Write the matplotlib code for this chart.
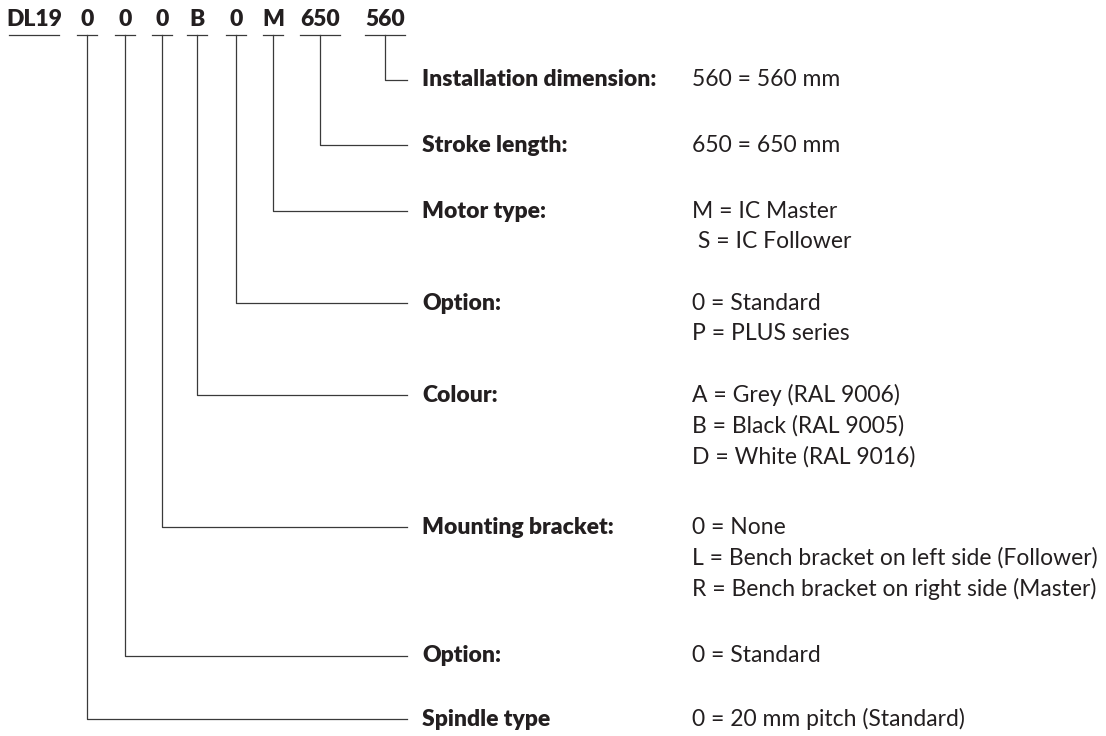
import matplotlib
matplotlib.use("Agg")
import matplotlib.pyplot as plt

# type code parts (header) and what each one means
codes = ["DL19", "0", "0", "0", "B", "0", "M", "650", "560"]
labels = ["Installation dimension:", "Stroke length:", "Motor type:", "Option:",
          "Colour:", "Mounting bracket:", "Option:", "Spindle type"]
values = [
    ["560 = 560 mm"],
    ["650 = 650 mm"],
    ["M = IC Master", " S = IC Follower"],
    ["0 = Standard", "P = PLUS series"],
    ["A = Grey (RAL 9006)", "B = Black (RAL 9005)", "D = White (RAL 9016)"],
    ["0 = None", "L = Bench bracket on left side (Follower)",
     "R = Bench bracket on right side (Master)"],
    ["0 = Standard"],
    ["0 = 20 mm pitch (Standard)"],
]
# which header code each label row points to (index into codes)
code_for_row = [8, 7, 6, 5, 4, 3, 2, 1]

# layout (pixels)
code_x = [34, 87, 125, 162, 197, 236, 273, 320, 385]
row_y = [80, 145, 211, 303, 395, 527, 656, 719]
head_y = 20
uline_y = 35
line_end = 407
label_x = 422
value_x = 692
line_step = 31

txt = "#231f20"
lc = "#3a3a3a"
fam = ["Lato", "DejaVu Sans"]
fs = 16.5

fig = plt.figure(figsize=(11.06, 7.36), dpi=100)
ax = fig.add_axes([0, 0, 1, 1])
ax.set_xlim(0, 1106)
ax.set_ylim(736, 0)
ax.axis("off")

# header with underlines
for c, x in zip(codes, code_x):
    ax.text(x, head_y, c, ha="center", va="center", fontsize=fs,
            fontweight="heavy", family=fam, color=txt)
    w = 10 * len(c) + 10
    ax.plot([x - w / 2, x + w / 2], [uline_y, uline_y], color=lc, lw=0.9)

# connectors, labels, values
for i, lab in enumerate(labels):
    y = row_y[i]
    x = code_x[code_for_row[i]]
    ax.plot([x, x, line_end], [uline_y, y, y], color=lc, lw=0.9)
    ax.text(label_x, y, lab, ha="left", va="center", fontsize=fs,
            fontweight="heavy", family=fam, color=txt)
    for k, v in enumerate(values[i]):
        ax.text(value_x, y + k * line_step, v, ha="left", va="center",
                fontsize=fs, family=fam, color=txt)

fig.savefig("out.png", dpi=100)
